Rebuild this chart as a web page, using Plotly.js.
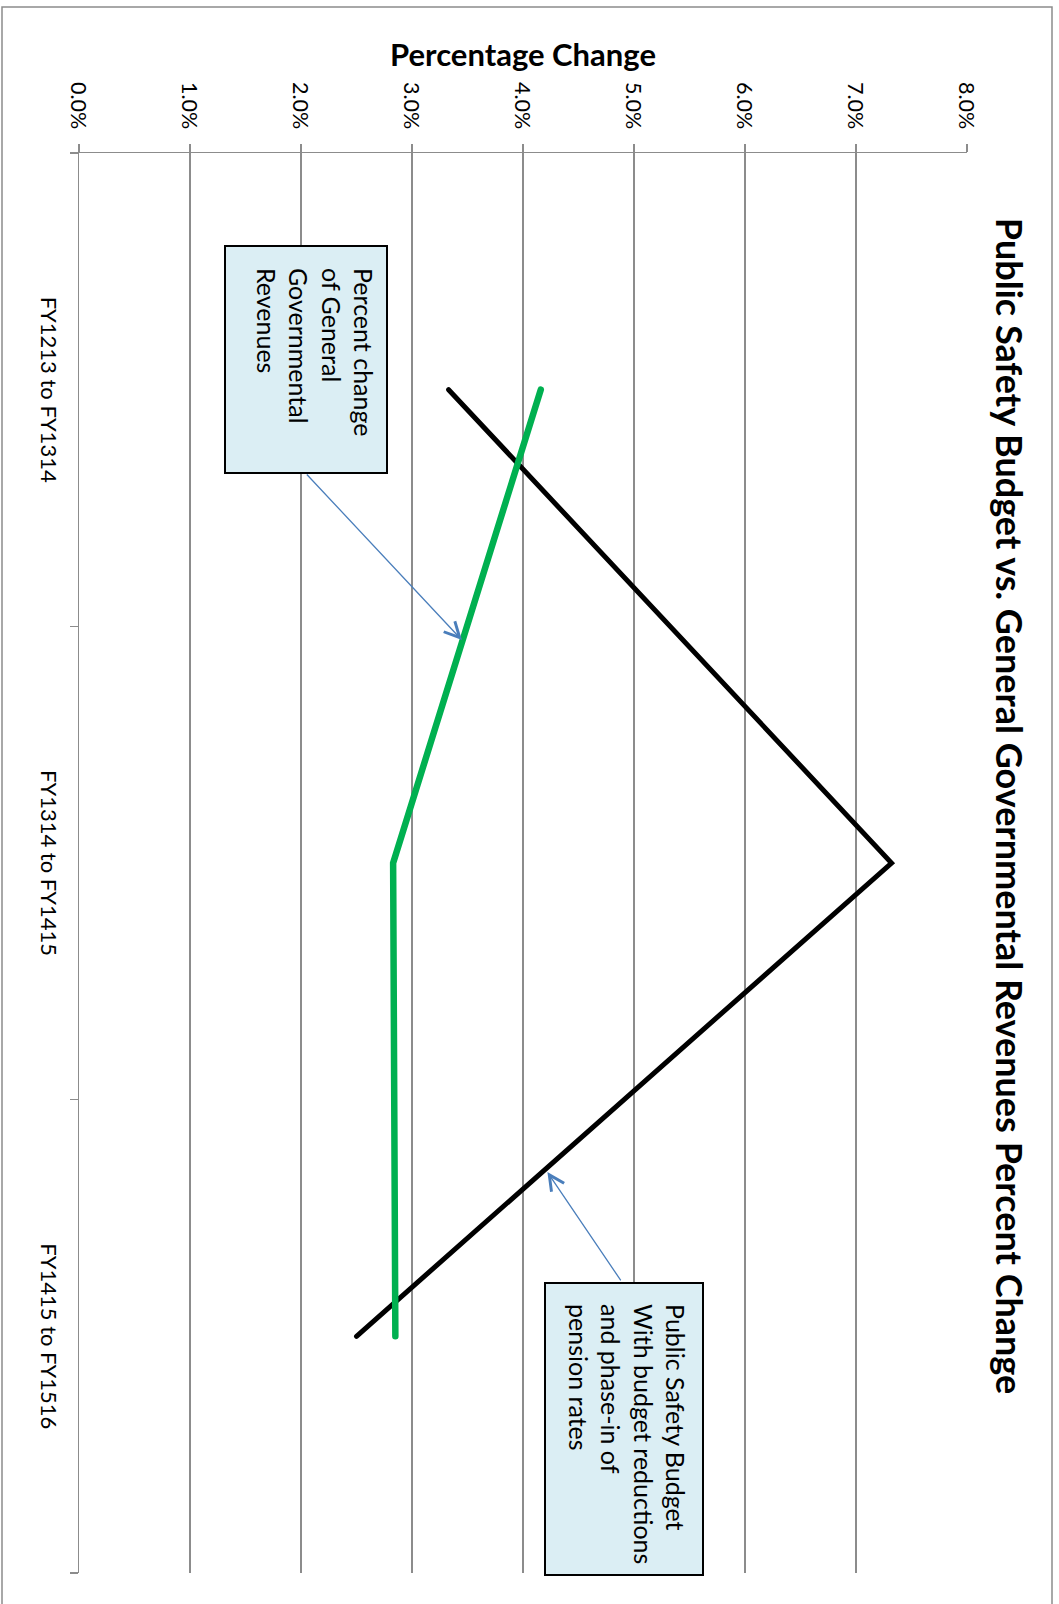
<!DOCTYPE html>
<html>
<head>
<meta charset="utf-8">
<script src="https://cdn.plot.ly/plotly-3.0.1.min.js"></script>
<style>
  html, body { margin: 0; padding: 0; width: 1059px; height: 1604px; overflow: hidden; background: #fff; }
  #wrap { position: absolute; left: 0; top: 0; width: 1604px; height: 1059px;
          transform-origin: 0 0; transform: translate(1059px, 0) rotate(90deg); }
  #wrap .scatterlayer path.js-line { stroke-linecap: round !important; }
</style>
</head>
<body>
<div id="wrap"></div>
<script>
// ---- data ----
const categories = ['FY1213 to FY1314', 'FY1314 to FY1415', 'FY1415 to FY1516'];
const publicSafetyBudget = [0.0333, 0.0732, 0.0250];
const generalRevenues = [0.0416, 0.0283, 0.0285];
const chartTitle = 'Public Safety Budget vs. General Governmental Revenues Percent Change';
const valueAxisTitle = 'Percentage Change';
const revenuesNote = 'Percent change<br>of General<br>Governmental<br>Revenues';
const budgetNote = 'Public Safety Budget<br>With budget reductions<br>and phase-in of<br>pension rates';

// ---- layout geometry (landscape chart, rotated 90deg clockwise by CSS) ----
const W = 1604, H = 1059, L = 153, R = 31, T = 92, B = 79;
const PW = W - L - R, PH = H - T - B;
// convert a point measured in the upright (rotated) picture to paper coords
function pX(Y) { return (Y - L) / PW; }
function pY(X) { return (X - B) / PH; }

const FONT = 'Lato, "Open Sans", sans-serif';
const GRID = '#8c8c8c';

const traces = [
  { type: 'scatter', mode: 'lines', x: categories, y: publicSafetyBudget,
    line: { color: '#000000', width: 5 }, hoverinfo: 'skip', showlegend: false },
  { type: 'scatter', mode: 'lines', x: categories, y: generalRevenues,
    line: { color: '#00B050', width: 6.5 }, hoverinfo: 'skip', showlegend: false }
];

const boxFill = '#DBEEF4';
const layout = {
  width: W, height: H,
  margin: { l: L, r: R, t: T, b: B, pad: 0 },
  paper_bgcolor: '#ffffff', plot_bgcolor: '#ffffff',
  font: { family: FONT, color: '#000000' },
  showlegend: false,
  title: { text: '<b>' + chartTitle + '</b>', font: { family: FONT, size: 36, color: '#000' },
           x: 806 / W, xref: 'container', xanchor: 'center',
           y: 1 - 50 / H, yref: 'container', yanchor: 'middle' },
  xaxis: {
    type: 'category', range: [-0.5, 2.5], tickson: 'boundaries',
    showgrid: false, zeroline: false, showline: true, linecolor: GRID, linewidth: 1.5,
    ticks: 'outside', ticklen: 8, tickcolor: GRID, tickwidth: 1.5,
    tickfont: { family: FONT, size: 22, color: '#000' }, ticklabelstandoff: 10,
    fixedrange: true
  },
  yaxis: {
    range: [0, 0.08], dtick: 0.01, tick0: 0, tickformat: '.1%',
    showgrid: true, gridcolor: GRID, gridwidth: 1.5, zeroline: false,
    showline: true, linecolor: GRID, linewidth: 1.5,
    ticks: 'outside', ticklen: 8, tickcolor: GRID, tickwidth: 1.5,
    tickfont: { family: FONT, size: 21.5, color: '#000' }, ticklabelstandoff: 10,
    title: { text: '<b>' + valueAxisTitle + '</b>', font: { family: FONT, size: 31, color: '#000' }, standoff: 6 },
    fixedrange: true
  },
  shapes: [
    // outer chart border
    { type: 'rect', xref: 'paper', yref: 'paper', x0: pX(7), x1: pX(1612), y0: pY(2), y1: pY(1052),
      line: { color: GRID, width: 1.5 }, fillcolor: 'rgba(0,0,0,0)', layer: 'below' },
    // note boxes
    { type: 'rect', xref: 'paper', yref: 'paper', x0: pX(246), x1: pX(473), y0: pY(225), y1: pY(387),
      line: { color: '#000', width: 2 }, fillcolor: boxFill, layer: 'above' },
    { type: 'rect', xref: 'paper', yref: 'paper', x0: pX(1283), x1: pX(1575), y0: pY(545), y1: pY(703),
      line: { color: '#000', width: 2 }, fillcolor: boxFill, layer: 'above' }
  ],
  annotations: [
    { xref: 'paper', yref: 'paper', x: pX(266), y: pY(381), xanchor: 'left', yanchor: 'top',
      align: 'left', showarrow: false, text: revenuesNote,
      font: { family: FONT, size: 25, color: '#000' } },
    { xref: 'paper', yref: 'paper', x: pX(1302), y: pY(693), xanchor: 'left', yanchor: 'top',
      align: 'left', showarrow: false, text: budgetNote,
      font: { family: FONT, size: 25, color: '#000' } },
    // arrows (data coordinates: category index, value)
    { xref: 'x', yref: 'y', axref: 'x', ayref: 'y', x: 0.529, y: 0.0345, ax: 0.176, ay: 0.0204,
      text: '', showarrow: true, arrowhead: 5, arrowsize: 2.3, arrowwidth: 1.3, arrowcolor: '#4A7EBB' },
    { xref: 'x', yref: 'y', axref: 'x', ayref: 'y', x: 1.653, y: 0.0422, ax: 1.885, ay: 0.0489,
      text: '', showarrow: true, arrowhead: 5, arrowsize: 2.3, arrowwidth: 1.3, arrowcolor: '#4A7EBB' }
  ]
};

Plotly.newPlot('wrap', traces, layout, { staticPlot: true, displayModeBar: false });
</script>
</body>
</html>
